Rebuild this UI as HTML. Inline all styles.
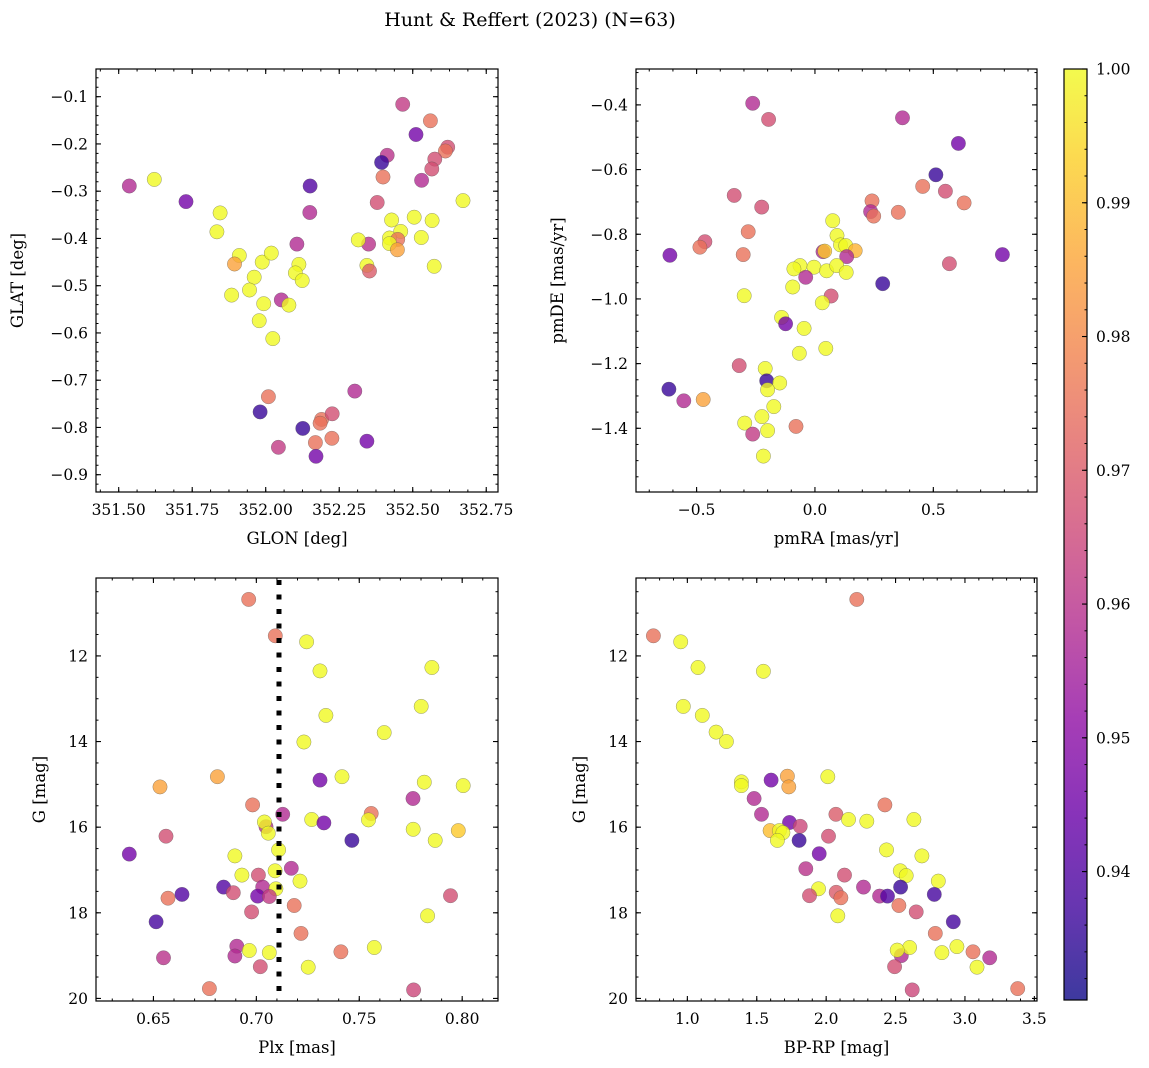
<!DOCTYPE html>
<html><head><meta charset="utf-8">
<style>
html,body{margin:0;padding:0;background:#fff;}
svg{display:block;font-family:"DejaVu Serif","Liberation Serif",serif;}
</style></head>
<body>
<svg id="fig" width="1149" height="1068" viewBox="0 0 1149 1068" xmlns="http://www.w3.org/2000/svg">
<text x="530" y="26" font-size="19" text-anchor="middle">Hunt &amp; Reffert (2023) (N=63)</text>
</svg>
<script>
// ---- Panel 1: GLON vs GLAT ----
const p1x=[351.536,351.621,351.729,351.845,351.834,351.910,351.894,351.988,352.019,351.961,351.945,351.884,351.993,351.978,352.024,352.053,352.079,352.106,352.113,352.101,352.124,352.151,352.150,352.466,352.560,352.511,352.413,352.394,352.619,352.611,352.575,352.565,352.530,352.399,352.379,352.671,352.428,352.505,352.566,352.459,352.529,352.421,352.449,352.421,352.448,352.350,352.315,352.344,352.353,352.573,352.303,352.009,351.981,352.126,352.190,352.185,352.226,352.169,352.225,352.344,352.043,352.171];
const p1y=[-0.289,-0.275,-0.322,-0.346,-0.386,-0.436,-0.454,-0.450,-0.431,-0.482,-0.509,-0.520,-0.538,-0.574,-0.612,-0.530,-0.541,-0.412,-0.455,-0.473,-0.489,-0.289,-0.345,-0.116,-0.151,-0.180,-0.224,-0.239,-0.207,-0.215,-0.232,-0.253,-0.277,-0.270,-0.324,-0.320,-0.361,-0.355,-0.362,-0.385,-0.398,-0.399,-0.402,-0.411,-0.424,-0.412,-0.403,-0.457,-0.469,-0.459,-0.723,-0.735,-0.767,-0.802,-0.783,-0.791,-0.771,-0.832,-0.823,-0.829,-0.842,-0.861];
const p1c=[0.958,1,0.946,1,1,1,0.985,1,1,1,1,1,1,1,1,0.958,1,0.958,1,1,1,0.940,0.958,0.962,0.975,0.946,0.960,0.936,0.967,0.975,0.967,0.967,0.958,0.975,0.967,1,1,1,1,1,1,1,0.975,1,0.985,0.960,1,1,0.970,1,0.958,0.975,0.936,0.936,0.975,0.975,0.967,0.975,0.975,0.946,0.962,0.946];
const p1xt=[351.50,351.75,352.00,352.25,352.50,352.75];
const p1yt=[-0.1,-0.2,-0.3,-0.4,-0.5,-0.6,-0.7,-0.8,-0.9];
// ---- Panel 2: pmRA vs pmDE ----
const p2x=[-0.263,-0.196,0.370,0.606,0.511,0.455,0.551,0.630,-0.341,-0.225,0.241,0.235,0.248,0.352,-0.282,-0.465,-0.486,-0.613,-0.303,0.792,0.568,0.286,0.075,0.093,0.108,0.130,0.170,0.034,0.041,0.134,-0.063,-0.089,-0.004,0.049,0.092,0.132,-0.039,-0.094,-0.299,0.068,0.031,-0.141,-0.124,-0.046,-0.066,0.046,-0.320,-0.210,-0.204,-0.149,-0.200,-0.617,-0.554,-0.472,-0.174,-0.224,-0.297,-0.200,-0.263,-0.080,-0.218];
const p2y=[-0.395,-0.445,-0.440,-0.519,-0.616,-0.652,-0.667,-0.703,-0.680,-0.716,-0.697,-0.730,-0.744,-0.732,-0.792,-0.823,-0.840,-0.865,-0.863,-0.863,-0.891,-0.953,-0.758,-0.804,-0.833,-0.835,-0.851,-0.854,-0.852,-0.869,-0.897,-0.907,-0.902,-0.913,-0.897,-0.918,-0.933,-0.963,-0.990,-0.991,-1.012,-1.057,-1.077,-1.091,-1.168,-1.153,-1.206,-1.215,-1.253,-1.260,-1.281,-1.279,-1.315,-1.311,-1.333,-1.364,-1.384,-1.407,-1.418,-1.394,-1.486];
const p2c=[0.958,0.967,0.958,0.946,0.936,0.975,0.967,0.975,0.967,0.967,0.975,0.958,0.975,0.975,0.975,0.967,0.975,0.946,0.975,0.946,0.967,0.936,1,1,1,1,0.988,0.958,0.992,0.958,1,1,1,1,1,1,0.958,1,1,0.967,1,1,0.946,1,1,1,0.967,1,0.936,1,1,0.936,0.958,0.985,1,1,1,1,0.962,0.975,1];
const p2xt=[-0.5,0.0,0.5];
const p2yt=[-0.4,-0.6,-0.8,-1.0,-1.2,-1.4];
// ---- Panel 3: Plx vs G ----
const p3x=[0.6963,0.7092,0.7244,0.7309,0.7853,0.7801,0.7338,0.7621,0.7231,0.6811,0.6532,0.7309,0.7416,0.7816,0.8005,0.7761,0.6982,0.7128,0.7558,0.7545,0.7269,0.7328,0.7047,0.7039,0.7058,0.6561,0.7762,0.7981,0.7869,0.7464,0.6383,0.7108,0.6896,0.7170,0.7091,0.6930,0.7010,0.7212,0.7031,0.6841,0.7095,0.6888,0.6639,0.6571,0.7006,0.7063,0.7943,0.7184,0.6977,0.7832,0.6513,0.7217,0.6905,0.6966,0.7063,0.6896,0.7411,0.7573,0.6549,0.7019,0.7252,0.6772,0.7764];
const p3y=[10.68,11.53,11.67,12.35,12.27,13.18,13.39,13.79,14.01,14.82,15.06,14.90,14.82,14.95,15.03,15.33,15.48,15.70,15.68,15.83,15.82,15.90,15.99,15.88,16.14,16.21,16.05,16.08,16.31,16.31,16.63,16.53,16.67,16.96,17.02,17.12,17.12,17.26,17.40,17.40,17.44,17.53,17.57,17.66,17.61,17.62,17.60,17.83,17.98,18.07,18.21,18.48,18.78,18.88,18.93,19.01,18.91,18.81,19.05,19.26,19.27,19.77,19.80];
const p3c=[0.975,0.975,1,1,1,1,1,1,1,0.985,0.985,0.946,1,1,1,0.958,0.975,0.958,0.975,1,1,0.946,0.960,1,1,0.967,1,0.992,1,0.936,0.946,1,1,0.958,1,1,0.967,1,0.958,0.940,1,0.967,0.940,0.975,0.946,0.962,0.967,0.975,0.967,1,0.938,0.975,0.958,1,1,0.958,0.975,1,0.960,0.967,1,0.975,0.965];
const p3xt=[0.65,0.70,0.75,0.80];
const p3yt=[12,14,16,18,20];
const plxCut=[0.7110];
// ---- Panel 4: BP-RP vs G ----
const p4x=[2.221,0.755,0.952,1.077,1.548,0.971,1.108,1.207,1.281,1.389,1.389,1.603,1.721,1.731,2.012,1.481,1.534,2.423,2.070,2.161,2.293,2.632,1.736,1.813,1.596,1.663,1.688,1.649,1.805,2.017,1.950,2.435,2.690,1.853,2.132,2.534,2.577,2.808,2.269,2.536,1.945,2.072,2.106,1.880,2.385,2.442,2.779,2.524,2.649,2.084,2.916,2.786,2.541,2.601,2.512,2.834,2.942,3.058,3.178,3.087,2.493,2.620,3.380];
const p4y=[10.68,11.53,11.67,12.27,12.36,13.18,13.39,13.78,14.00,14.94,15.03,14.90,14.81,15.06,14.82,15.33,15.70,15.48,15.70,15.82,15.86,15.82,15.89,15.98,16.08,16.08,16.13,16.31,16.31,16.21,16.62,16.53,16.67,16.97,17.12,17.02,17.13,17.26,17.40,17.40,17.44,17.52,17.65,17.60,17.61,17.61,17.57,17.83,17.98,18.07,18.21,18.48,19.00,18.81,18.87,18.93,18.79,18.91,19.05,19.27,19.26,19.80,19.77];
const p4c=[0.975,0.975,1,1,1,1,1,1,1,1,1,0.946,0.985,0.985,1,0.958,0.958,0.975,0.970,1,1,1,0.946,0.965,0.990,1,1,1,0.936,0.967,0.946,1,1,0.960,0.967,1,1,1,0.958,0.936,1,0.970,0.975,0.967,0.958,0.940,0.938,0.975,0.967,1,0.938,0.975,0.958,1,1,1,1,0.975,0.958,1,0.967,0.965,0.975];
const p4xt=[1.0,1.5,2.0,2.5,3.0,3.5];
const p4yt=[12,14,16,18,20];
// ---- Colorbar ----
const cbTicks=[0.94,0.95,0.96,0.97,0.98,0.99,1.00];
const cbRange=[0.9304,1.0];

const NS="http://www.w3.org/2000/svg";
const svg=document.getElementById('fig');
function mk(tag,attrs,parent){const e=document.createElementNS(NS,tag);for(const k in attrs)e.setAttribute(k,attrs[k]);(parent||svg).appendChild(e);return e;}
const stops=[[13,8,135],[65,4,157],[106,0,168],[143,13,164],[177,42,144],[204,71,120],[225,100,98],[242,132,75],[252,166,54],[252,206,37],[240,249,33]];
function plasma(t){t=Math.max(0,Math.min(1,t));const f=t*10,i=Math.min(9,Math.floor(f)),r=f-i;const a=stops[i],b=stops[i+1];return 'rgb('+[0,1,2].map(k=>Math.round(a[k]+(b[k]-a[k])*r)).join(',')+')';}
function cmap(v){return plasma((v-cbRange[0])/(cbRange[1]-cbRange[0]));}
function fmt(v,d){const s=Math.abs(v).toFixed(d);return (v<0?'\u2212':'')+s;}

function panel(name,box,xl,yl,xs,ys,cs,xt,yt,xd,yd,xminor,yminor,xlabel,ylabel,ylabX){
  const [L,T,R,B]=box;
  const X=v=>L+(v-xl[0])/(xl[1]-xl[0])*(R-L);
  const Y=v=>T+(v-yl[0])/(yl[1]-yl[0])*(B-T);
  const g=mk('g',{});
  
  
  const cp=mk('clipPath',{id:'clip-'+name},g);mk('rect',{x:L,y:T,width:R-L,height:B-T},cp);
  const pts=mk('g',{'clip-path':'url(#clip-'+name+')'},g);
  
  
  for(let i=0;i<xs.length;i++){
    const c=mk('circle',{cx:X(xs[i]).toFixed(1),cy:Y(ys[i]).toFixed(1),r:7.2,fill:cmap(cs[i]),'fill-opacity':0.8,stroke:'#555','stroke-opacity':0.6,'stroke-width':0.5},pts);
    
    
  }
  const lo=Math.min(xl[0],xl[1]),hi=Math.max(xl[0],xl[1]);
  for(let v=Math.ceil(lo/xminor-1e-6)*xminor;v<=hi+1e-9;v+=xminor){const x=X(v);mk('line',{x1:x,x2:x,y1:B,y2:B-2.5,stroke:'#000','stroke-width':1},g);mk('line',{x1:x,x2:x,y1:T,y2:T+2.5,stroke:'#000','stroke-width':1},g);}
  const ylo=Math.min(yl[0],yl[1]),yhi=Math.max(yl[0],yl[1]);
  for(let v=Math.ceil(ylo/yminor-1e-6)*yminor;v<=yhi+1e-9;v+=yminor){const y=Y(v);mk('line',{x1:L,x2:L+2.5,y1:y,y2:y,stroke:'#000','stroke-width':1},g);mk('line',{x1:R,x2:R-2.5,y1:y,y2:y,stroke:'#000','stroke-width':1},g);}
  xt.forEach(v=>{const x=X(v);mk('line',{x1:x,x2:x,y1:B,y2:B-5,stroke:'#000','stroke-width':1.1},g);mk('line',{x1:x,x2:x,y1:T,y2:T+5,stroke:'#000','stroke-width':1.1},g);
    const t=mk('text',{x:x,y:B+23,'font-size':15.5,'text-anchor':'middle'},g);t.textContent=fmt(v,xd);
    
    });
  yt.forEach(v=>{const y=Y(v);mk('line',{x1:L,x2:L+5,y1:y,y2:y,stroke:'#000','stroke-width':1.1},g);mk('line',{x1:R,x2:R-5,y1:y,y2:y,stroke:'#000','stroke-width':1.1},g);
    const t=mk('text',{x:L-8,y:y+5.5,'font-size':15.5,'text-anchor':'end'},g);t.textContent=fmt(v,yd);
    
    });
  const fr=mk('rect',{x:L,y:T,width:R-L,height:B-T,fill:'none',stroke:'#000','stroke-width':1.2},g);
  
  
  const xlb=mk('text',{x:(L+R)/2,y:B+52,'font-size':16.5,'text-anchor':'middle'},g);xlb.textContent=xlabel;
  
  
  const cy=(T+B)/2;
  const ylb=mk('text',{x:ylabX,y:cy,'font-size':16.5,'text-anchor':'middle',transform:'rotate(-90 '+ylabX+' '+cy+')'},g);ylb.textContent=ylabel;
  
  
  return {X,Y,g,T,B};
}
panel('glon-glat-panel',[96,69,498,492],[351.4228,352.790],[-0.0414,-0.9366],p1x,p1y,p1c,p1xt,p1yt,2,1,0.0625,0.02,'GLON [deg]','GLAT [deg]',23);
panel('pm-panel',[636,69,1037,492],[-0.756,0.938],[-0.289,-1.597],p2x,p2y,p2c,p2xt,p2yt,1,1,0.1,0.05,'pmRA [mas/yr]','pmDE [mas/yr]',563);
const P3=panel('plx-g-panel',[96,578,498,1001],[0.6221,0.8174],[10.18,20.06],p3x,p3y,p3c,p3xt,p3yt,2,0,0.01,0.5,'Plx [mas]','G [mag]',45);
panel('color-mag-panel',[636,578,1037,1001],[0.630,3.519],[10.18,20.06],p4x,p4y,p4c,p4xt,p4yt,1,0,0.1,0.5,'BP-RP [mag]','G [mag]',585);
plxCut.forEach(v=>{const l=mk('line',{x1:P3.X(v),x2:P3.X(v),y1:580,y2:1000,stroke:'#000','stroke-width':5,'stroke-dasharray':'5,9.5'},P3.g);
  
  });

// colorbar
const cb=mk('g',{});


const defs=mk('defs',{},cb);const lg=mk('linearGradient',{id:'cbg',x1:0,y1:1,x2:0,y2:0},defs);
for(let i=0;i<=20;i++)mk('stop',{offset:(i/20),'stop-color':plasma(i/20),'stop-opacity':0.8},lg);
const cL=1064,cR=1087,cT=69,cB=1000;
mk('rect',{x:cL,y:cT,width:cR-cL,height:cB-cT,fill:'url(#cbg)'},cb);
const CY=v=>cB-(v-cbRange[0])/(cbRange[1]-cbRange[0])*(cB-cT);
for(let v=0.932;v<=1.0001;v+=0.002){const y=CY(v);mk('line',{x1:cR,x2:cR-2.5,y1:y,y2:y,stroke:'#000','stroke-width':1},cb);}
cbTicks.forEach(v=>{const y=CY(v);mk('line',{x1:cR,x2:cR-5,y1:y,y2:y,stroke:'#000','stroke-width':1.1},cb);
  const t=mk('text',{x:1096,y:y+5.5,'font-size':15.5},cb);t.textContent=v.toFixed(2);
  
  });
mk('rect',{x:cL,y:cT,width:cR-cL,height:cB-cT,fill:'none',stroke:'#000','stroke-width':1.2},cb);
</script>
</body></html>
